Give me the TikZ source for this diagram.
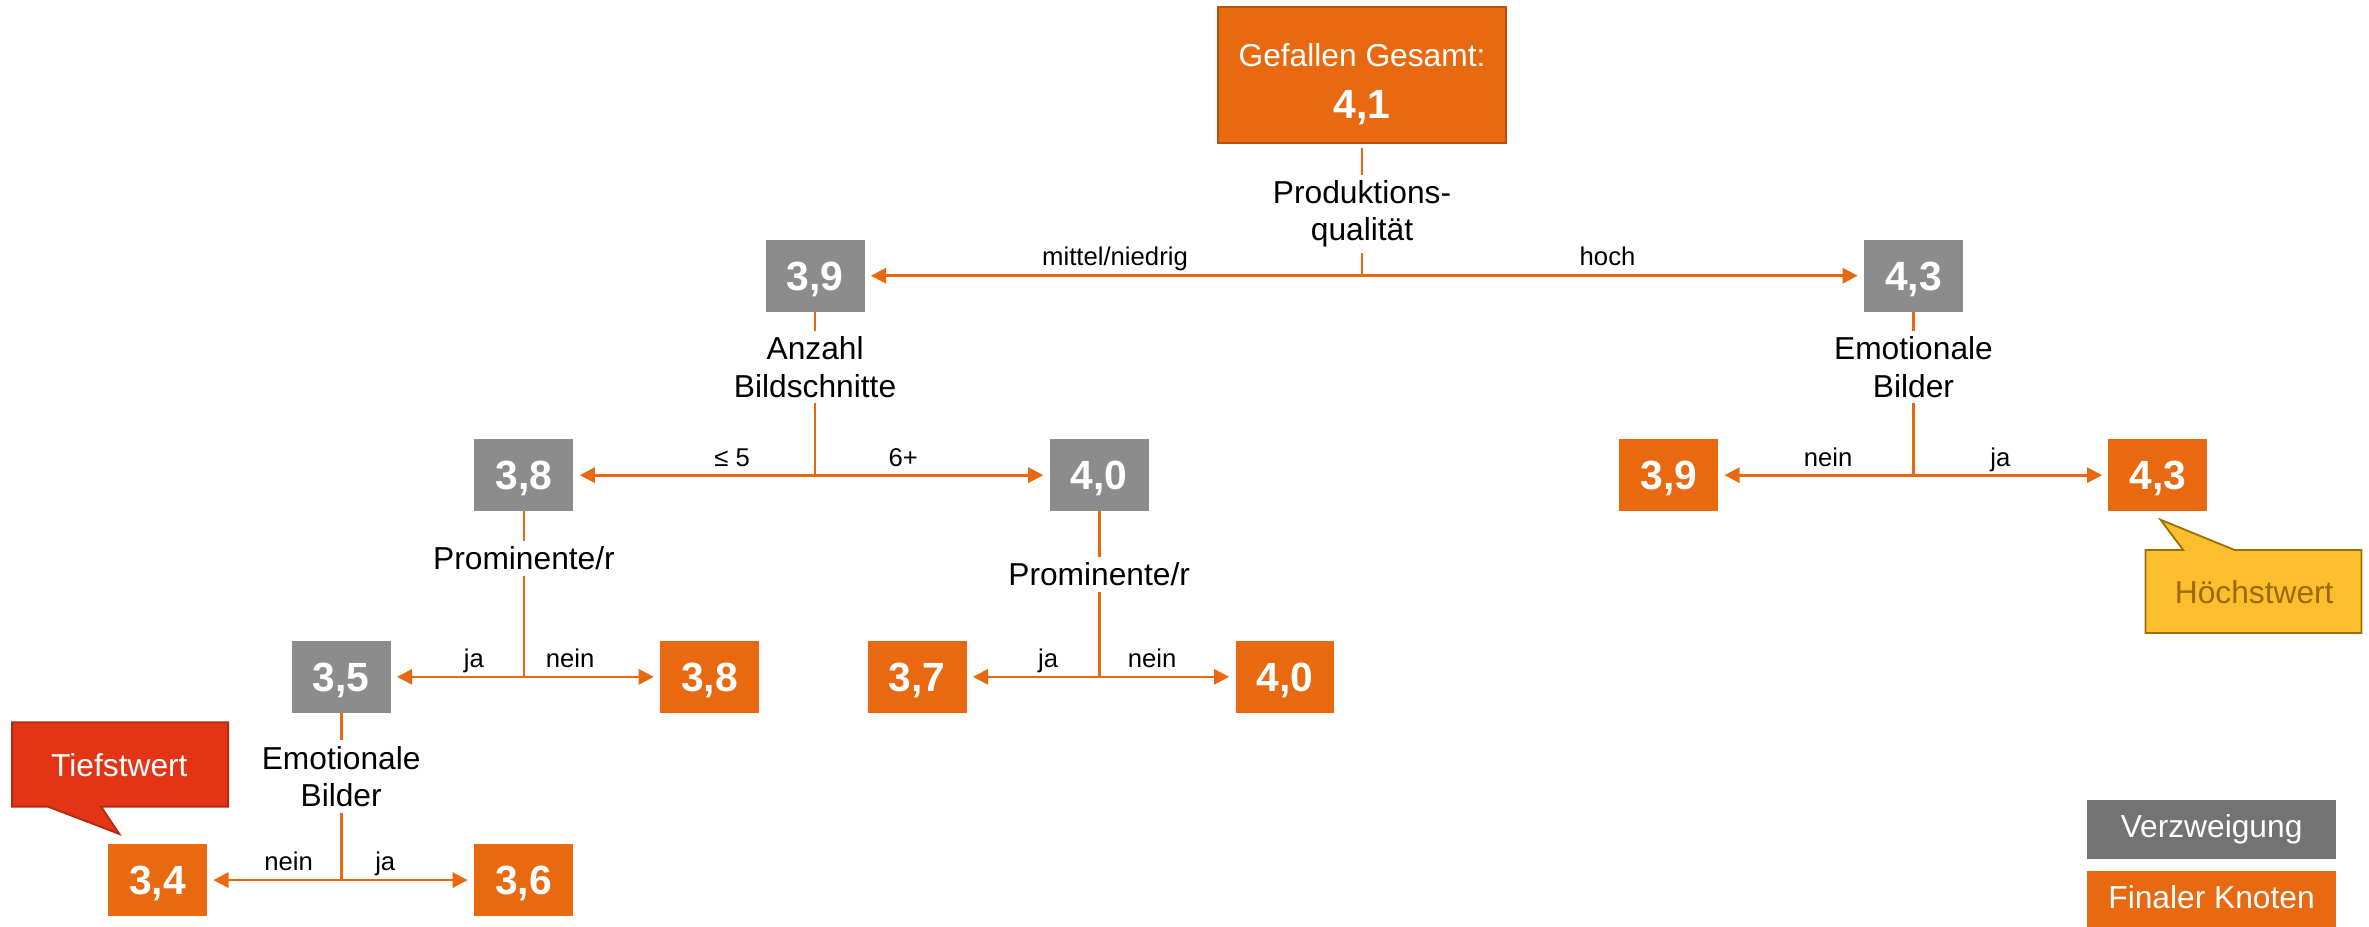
\documentclass[tikz,border=0pt]{standalone}
\usepackage{fontspec}
\setmainfont{Liberation Sans}
\usetikzlibrary{arrows.meta}
\definecolor{org}{HTML}{E8690F}
\definecolor{orgdark}{HTML}{B4520C}
\definecolor{gry}{HTML}{8C8C8C}
\definecolor{gryleg}{HTML}{737373}
\definecolor{redc}{HTML}{E33515}
\definecolor{reddark}{HTML}{B02A12}
\definecolor{yel}{HTML}{FDBE2E}
\definecolor{yeldark}{HTML}{9C7000}
\definecolor{yeltext}{HTML}{9C6A00}
\begin{document}
\begin{tikzpicture}[x=1pt,y=-1pt,
  numbox/.style={minimum width=65.5pt,minimum height=47.5pt,inner sep=0pt,text=white,
    font=\fontsize{27}{30}\selectfont\bfseries,text height=19.3pt,text depth=0pt},
  gbox/.style={numbox,fill=gry},
  obox/.style={numbox,fill=org},
  dlabel/.style={align=center,inner xsep=2pt,inner ysep=3.5pt,font=\fontsize{21}{25}\selectfont},
  elabel/.style={anchor=base,inner sep=0pt,font=\fontsize{17}{20}\selectfont},
  conn/.style={draw=org,line width=1.8pt},
  arr/.style={conn,-{Triangle[length=10pt,width=10pt]},shorten >=4pt},
  legbox/.style={minimum width=164.5pt,minimum height=38.9pt,inner sep=0pt,text=white,
    font=\fontsize{21}{25}\selectfont,text height=15.1pt,text depth=4.4pt},
  calltext/.style={anchor=base,inner sep=0pt,font=\fontsize{21}{25}\selectfont},
]
\useasboundingbox (0,0) rectangle (1568,613);

% root
\node[fill=org,draw=orgdark,line width=1.5pt,minimum width=191pt,minimum height=90pt,inner sep=0pt] (root) at (901.5,49.5) {};
\node[anchor=base,inner sep=0pt,text=white,font=\fontsize{21}{25}\selectfont] (roottitle) at (901.5,44) {Gefallen Gesamt:};
\node[anchor=base,inner sep=0pt,text=white,font=\fontsize{27}{30}\selectfont\bfseries] (rootval) at (901.5,78.5) {4,1};

% decision labels
\node[dlabel] (L0) at (901.5,141.5) {Produktions-\\qualität};
\node[dlabel] (L1) at (539.5,242.8) {Anzahl\\Bildschnitte};
\node[dlabel] (L2) at (1266.5,242.8) {Emotionale\\Bilder};
\node[dlabel] (L3) at (346.8,369.6) {Prominente/r};
\node[dlabel] (L4) at (727.5,380.3) {Prominente/r};
\node[dlabel] (L5) at (225.8,514) {Emotionale\\Bilder};

% split points
\coordinate (s0) at (901.5,182.5);
\coordinate (s1) at (539.5,314.5);
\coordinate (s2) at (1266.5,314.5);
\coordinate (s3) at (346.8,448);
\coordinate (s4) at (727.5,448);
\coordinate (s5) at (225.8,582.5);

% number nodes
\node[gbox] (n39g) at (539.5,182.5) {3,9};
\node[gbox] (n43g) at (1266.5,182.5) {4,3};
\node[gbox] (n38g) at (346.8,314.5) {3,8};
\node[gbox] (n40g) at (727.5,314.5) {4,0};
\node[obox] (n39o) at (1104.5,314.5) {3,9};
\node[obox] (n43o) at (1428.3,314.5) {4,3};
\node[gbox] (n35g) at (225.8,448) {3,5};
\node[obox] (n38o) at (469.7,448) {3,8};
\node[obox] (n37o) at (607,448) {3,7};
\node[obox] (n40o) at (850.5,448) {4,0};
\node[obox] (n34o) at (104.3,582.5) {3,4};
\node[obox] (n36o) at (346.5,582.5) {3,6};

% connectors
\draw[conn,shorten <=3pt] (root) -- (L0);
\draw[conn] (L0) -- (s0);
\draw[arr] (s0) -- (n39g);
\draw[arr] (s0) -- (n43g);

\draw[conn] (n39g) -- (L1);
\draw[conn] (L1) -- (s1);
\draw[arr] (s1) -- (n38g);
\draw[arr] (s1) -- (n40g);

\draw[conn] (n43g) -- (L2);
\draw[conn] (L2) -- (s2);
\draw[arr] (s2) -- (n39o);
\draw[arr] (s2) -- (n43o);

\draw[conn] (n38g) -- (L3);
\draw[conn] (L3) -- (s3);
\draw[arr] (s3) -- (n35g);
\draw[arr] (s3) -- (n38o);

\draw[conn] (n40g) -- (L4);
\draw[conn] (L4) -- (s4);
\draw[arr] (s4) -- (n37o);
\draw[arr] (s4) -- (n40o);

\draw[conn] (n35g) -- (L5);
\draw[conn] (L5) -- (s5);
\draw[arr] (s5) -- (n34o);
\draw[arr] (s5) -- (n36o);

% edge labels
\node[elabel] (e1) at (738,175.5) {mittel/niedrig};
\node[elabel] (e2) at (1064,175.5) {hoch};
\node[elabel] (e3) at (484.6,308.5) {≤ 5};
\node[elabel] (e4) at (597.8,308.5) {6+};
\node[elabel] (e5) at (1210,308.5) {nein};
\node[elabel] (e6) at (1324,308.5) {ja};
\node[elabel] (e7) at (313.7,442) {ja};
\node[elabel] (e8) at (377.4,442) {nein};
\node[elabel] (e9) at (693.7,442) {ja};
\node[elabel] (e10) at (762.6,442) {nein};
\node[elabel] (e11) at (191,576) {nein};
\node[elabel] (e12) at (255,576) {ja};

% callouts
\draw[fill=redc,draw=reddark,line width=1.2pt,line join=miter]
  (8,478) -- (151,478) -- (151,534) -- (67,534) -- (79,552) -- (32,534) -- (8,534) -- cycle;
\node[calltext,text=white] (tief) at (79,514) {Tiefstwert};
\draw[fill=yel,draw=yeldark,line width=1.2pt,line join=miter]
  (1420,364) -- (1445,364) -- (1430,344) -- (1479,364) -- (1563,364) -- (1563,419) -- (1420,419) -- cycle;
\node[calltext,text=yeltext] (hoechst) at (1492,399.3) {Höchstwert};

% legend
\node[legbox,fill=gryleg] (legv) at (1463.8,549) {Verzweigung};
\node[legbox,fill=org] (lego) at (1463.8,595.7) {Finaler Knoten};
\end{tikzpicture}
\end{document}
